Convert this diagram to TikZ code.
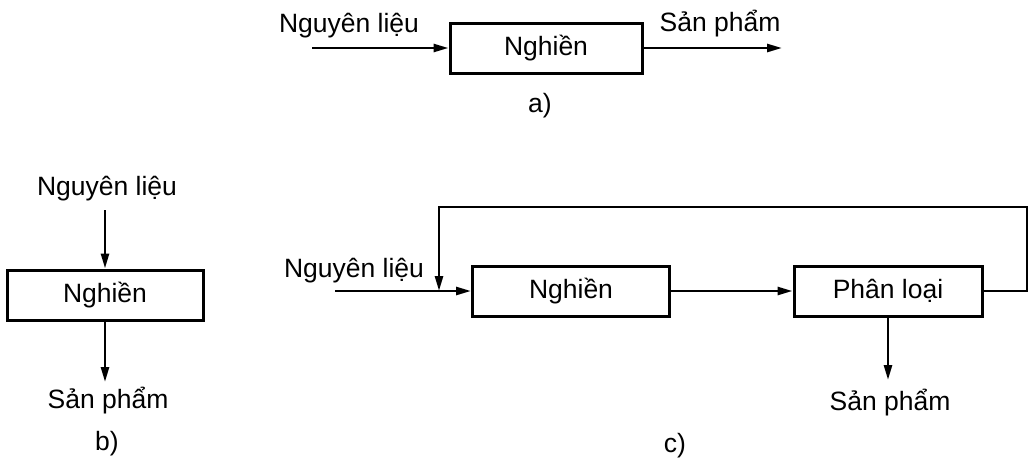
\documentclass[tikz,border=0pt]{standalone}
\usepackage{fontspec}
\setmainfont{Liberation Sans}
\usetikzlibrary{arrows.meta,positioning}

\begin{document}
\begin{tikzpicture}[
      x=1pt, y=-1pt,
      font=\fontsize{26.5}{30}\selectfont,
      box/.style={draw, line width=3pt, minimum width=192pt,
                  minimum height=50pt, inner sep=0pt, align=center},
      lbl/.style={inner sep=0pt, anchor=base},
      arrow/.style={-{Triangle[length=15pt,width=8pt]}, line width=2.6pt},
      flow/.style={line width=2.6pt}
    ]
    \useasboundingbox (0,0) rectangle (1035,471);

    % a) single pass
    \node[box] (grindA) at (546,48) {Nghiền};
    \node[lbl] (rawA) at (349,32) {Nguyên liệu};
    \node[lbl] (prodA) at (720,31) {Sản phẩm};
    \node[lbl] (capA) at (540,112) {a)};
    \coordinate (inA) at (312,48);
    \coordinate (outA) at (782,48);
    \draw[arrow] (inA) -- (grindA);
    \draw[arrow] (grindA) -- (outA);

    % b) vertical
    \node[box, minimum width=196pt] (grindB) at (105,295) {Nghiền};
    \node[lbl] (rawB) at (107,195) {Nguyên liệu};
    \node[lbl] (prodB) at (108,408) {Sản phẩm};
    \node[lbl] (capB) at (107,450) {b)};
    \coordinate (inB) at (105,210);
    \coordinate (outB) at (105,382);
    \draw[arrow] (inB) -- (grindB);
    \draw[arrow] (grindB) -- (outB);

    % c) closed circuit with classifier
    \node[box, minimum width=197pt] (grindC) at (571,291) {Nghiền};
    \node[box, minimum width=188pt] (sortC) at (888,291) {Phân loại};
    \node[lbl] (rawC) at (354,277) {Nguyên liệu};
    \node[lbl] (prodC) at (890,410) {Sản phẩm};
    \node[lbl] (capC) at (675,452) {c)};
    \coordinate (inC) at (335,291);
    \coordinate (joinC) at (439,291);
    \coordinate (topC) at (1027,207);
    \coordinate (outC) at (888,380);
    \draw[arrow] (inC) -- (grindC);
    \draw[arrow] (grindC) -- (sortC);
    \draw[arrow] (sortC) -- (outC);

    % Return of coarse fraction
    \draw[arrow] (sortC.east) -| (topC) -| (joinC);
  \end{tikzpicture}
\end{document}
